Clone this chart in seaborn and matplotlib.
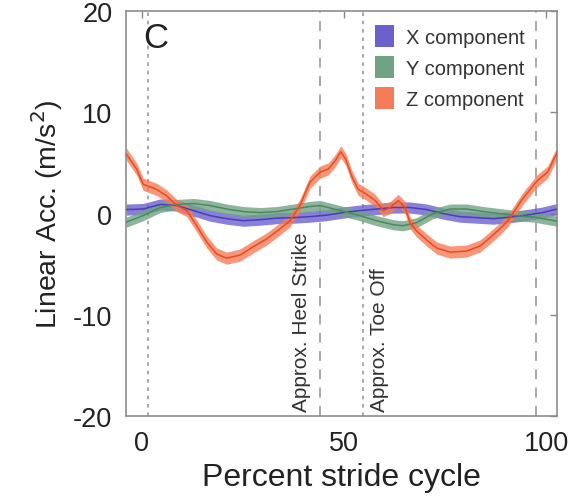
import numpy as np
import pandas as pd
import seaborn as sns
import matplotlib
matplotlib.use("Agg")
import matplotlib.pyplot as plt
from matplotlib.patches import Patch

# values (percent stride cycle -> m/s^2)
x_pct = [-3.8, 0.4, 4.6, 8.7, 12.8, 16.9, 21.0, 25.1, 29.3, 33.4, 37.5, 41.6, 45.7, 49.8,
         53.9, 58.0, 62.1, 66.3, 70.4, 74.5, 78.6, 82.8, 86.9, 91.0, 95.0, 99.0, 102.6]
x_acc = [0.4, 0.45, 0.9, 0.8, 0.3, -0.2, -0.5, -0.7, -0.6, -0.45, -0.4, -0.3, -0.15, 0.1,
         0.3, 0.45, 0.6, 0.6, 0.4, 0.0, -0.3, -0.4, -0.5, -0.35, -0.15, 0.1, 0.45]

y_pct = [-3.8, 0.4, 4.6, 8.7, 12.8, 16.9, 21.0, 25.1, 29.3, 33.4, 37.5, 41.6, 44.1, 49.0,
         53.9, 58.0, 62.2, 64.6, 67.9, 72.0, 76.2, 80.3, 84.4, 88.5, 92.5, 97.0, 102.6]
y_acc = [-0.85, -0.2, 0.6, 0.9, 1.0, 0.8, 0.45, 0.2, 0.1, 0.2, 0.45, 0.7, 0.8, 0.3,
         -0.2, -0.7, -1.1, -1.2, -0.9, 0.0, 0.45, 0.45, 0.2, 0.0, -0.2, -0.35, -0.75]

z_pct = [-3.8, -1.2, 0.4, 3.7, 6.2, 8.7, 11.2, 13.6, 16.1, 18.6, 21.0, 24.3, 27.5, 30.9,
         34.2, 36.7, 39.1, 41.6, 44.1, 46.1, 47.8, 49.2, 50.4, 51.9, 53.5, 55.6, 57.7, 59.7,
         61.4, 63.4, 65.1, 66.3, 67.9, 70.4, 72.9, 76.2, 80.3, 83.6, 86.0, 88.5, 90.5, 94.0,
         97.6, 100.3, 102.6]
z_acc = [5.9, 4.4, 2.9, 2.4, 1.75, 0.8, 0.3, -1.2, -2.8, -4.0, -4.4, -4.1, -3.3, -2.5,
         -1.5, -0.7, 0.8, 3.1, 4.1, 4.4, 5.2, 6.1, 5.4, 3.7, 2.4, 1.9, 1.3, 0.3,
         0.6, 1.3, 0.6, -0.9, -1.7, -2.6, -3.4, -3.8, -3.7, -3.2, -2.4, -1.5, -0.7, 1.4,
         3.2, 4.1, 6.0]

components = ["X component", "Y component", "Z component"]
spread = [0.55, 0.5, 0.6]

heel_strike = [44.1, 97.3]
toe_off = [1.6, 54.7]

band_colors = ["#6c60cf", "#6fa383", "#f57c58"]
line_colors = ["#4a3db5", "#4b8a60", "#ec4a20"]

frames = []
for name, xs, ys in zip(components, [x_pct, y_pct, z_pct], [x_acc, y_acc, z_acc]):
    frames.append(pd.DataFrame({"pct": xs, "acc": ys, "component": name}))
df = pd.concat(frames, ignore_index=True)

sns.set_theme(style="white")
plt.rcParams["font.family"] = ["Liberation Sans", "DejaVu Sans"]

fig = plt.figure(figsize=(5.76, 5.02), dpi=100)
ax = fig.add_axes([0.219, 0.169, 0.748, 0.807])

for xv in toe_off:
    ax.axvline(xv, color="#9a9a9a", lw=1.2, ls=(0, (2.2, 2.8)), zorder=1)
for xv in heel_strike:
    ax.axvline(xv, color="#9a9a9a", lw=1.2, ls=(0, (6, 5)), zorder=1)

for name, sd, bc, lc in zip(components, spread, band_colors, line_colors):
    sub = df[df["component"] == name]
    ax.fill_between(sub["pct"], sub["acc"] - sd, sub["acc"] + sd,
                    color=bc, alpha=0.8, lw=0, zorder=2)
    sns.lineplot(data=sub, x="pct", y="acc", ax=ax, color=lc, lw=1.1,
                 legend=False, zorder=3, solid_joinstyle="round")

ax.text(39.4, -19.5, "Approx. Heel Strike", rotation=90, ha="center", va="bottom",
        fontsize=15, color="#333333")
ax.text(58.8, -19.5, "Approx. Toe Off", rotation=90, ha="center", va="bottom",
        fontsize=15, color="#333333")

ax.text(0.039, 0.975, "C", transform=ax.transAxes, ha="left", va="top",
        fontsize=25, color="#222222")

handles = [Patch(facecolor=c, edgecolor="none") for c in band_colors]
leg = ax.legend(handles, components, loc="upper left", bbox_to_anchor=(0.578, 0.965),
                frameon=False, fontsize=14.5, handlelength=0.95, handleheight=1.3,
                handletextpad=0.6, labelspacing=0.45, borderpad=0, borderaxespad=0)
for t in leg.get_texts():
    t.set_color("#333333")

ax.set_xlim(-3.8, 102.6)
ax.set_ylim(-20, 20)
ax.set_xticks([0, 50, 100])
ax.set_yticks([-20, -10, 0, 10, 20])
ax.set_xticklabels(["0", "50", "100"])
ax.set_yticklabels(["-20", "-10", "0", "10", "20"])
ax.tick_params(direction="in", length=5, width=1, color="#888888",
               top=True, right=True, labelsize=19.5, labelcolor="#222222", pad=10)
for s in ax.spines.values():
    s.set_color("#8c8c8c")
    s.set_linewidth(1.2)

ax.set_xlabel("Percent stride cycle", fontsize=23, color="#222222", labelpad=4)
ax.set_ylabel("Linear Acc. (m/s$^2$)", fontsize=20.5, color="#222222", labelpad=6)

fig.savefig("out.png", dpi=100)
